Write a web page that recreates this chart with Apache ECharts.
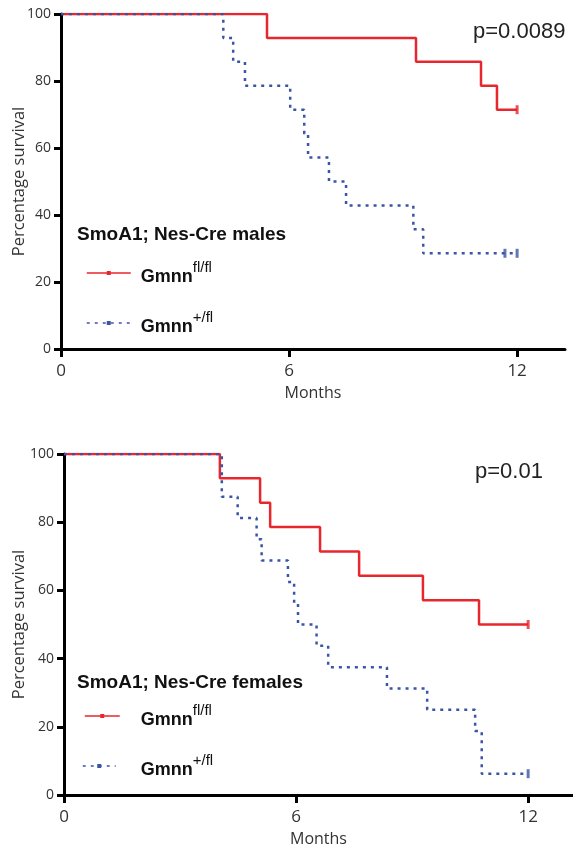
<!DOCTYPE html>
<html lang="en">
<head>
	<meta charset="UTF-8">
	<title>Survival</title>
	<script src="https://cdn.jsdelivr.net/npm/echarts@6/dist/echarts.min.js"></script>
	<style>
		body { margin: 0; background: #fff; }
	</style>
</head>
<body>
	<div id="km_charts" style="width: 573px;height:850px;"></div>

	<script type="text/javascript">
		// months, percentage survival (step points)
		var malesFlFl = [[0, 100], [5.42, 92.86], [9.34, 85.71], [11.05, 78.57], [11.47, 71.43], [12, 71.43]];
		var malesPlusFl = [[0, 100], [4.27, 92.86], [4.53, 85.71], [4.84, 78.57], [6.03, 71.43], [6.4, 64.29], [6.5, 57.14],
			[7.05, 50], [7.5, 42.86], [9.27, 35.71], [9.53, 28.57], [12, 28.57]];
		var malesCensFlFl = [[12, 71.43]];
		var malesCensPlusFl = [[11.68, 28.57], [12, 28.57]];

		var femalesFlFl = [[0, 100], [4.03, 92.86], [5.07, 85.71], [5.33, 78.57], [6.62, 71.43], [7.63, 64.29], [9.28, 57.14],
			[10.73, 50], [12, 50]];
		var femalesPlusFl = [[0, 100], [4.08, 87.5], [4.49, 81.25], [4.98, 75], [5.11, 68.75], [5.79, 62.5], [5.95, 56.25],
			[6.05, 50], [6.53, 43.75], [6.83, 37.5], [8.35, 31.25], [9.39, 25], [10.63, 18.75], [10.8, 6.25], [12, 6.25]];
		var femalesCensFlFl = [[12, 50]];
		var femalesCensPlusFl = [[12, 6.25]];

		var pValues = ['p=0.0089', 'p=0.01'];
		var groupTitles = ['SmoA1; Nes-Cre males', 'SmoA1; Nes-Cre females'];

		var RED = '#e8262d';
		var BLUE = '#3b55a5';
		var FONT = 'Open Sans';

		var km_chart = echarts.init(document.getElementById('km_charts'));

		function xAxisOf(idx, max) {
			return {
				type: 'value', gridIndex: idx, min: 0, max: max, interval: 6,
				name: 'Months', nameLocation: 'middle', nameGap: 36,
				nameTextStyle: { fontFamily: FONT, fontSize: 16, color: '#333' },
				axisLine: { lineStyle: { color: '#000', width: 3 } },
				axisTick: { length: 8, lineStyle: { color: '#000', width: 3 } },
				axisLabel: { fontFamily: FONT, fontSize: 17, color: '#333', margin: 14, showMaxLabel: false },
				splitLine: { show: false }
			};
		}
		function yAxisOf(idx, gap) {
			return {
				type: 'value', gridIndex: idx, min: 0, max: 100, interval: 20,
				name: 'Percentage survival', nameLocation: 'middle', nameGap: gap, nameRotate: 90,
				nameMoveOverlap: false,
				nameTextStyle: { fontFamily: FONT, fontSize: 16.5, color: '#333' },
				axisLine: { show: true, lineStyle: { color: '#000', width: 3 } },
				axisTick: { show: true, length: 7, lineStyle: { color: '#000', width: 3 } },
				axisLabel: { fontFamily: FONT, fontSize: 14, color: '#333', margin: 10 },
				splitLine: { show: false }
			};
		}
		function stepLine(name, idx, data, color, dashed) {
			return {
				name: name, type: 'line', step: 'end', xAxisIndex: idx, yAxisIndex: idx,
				data: data, symbol: 'rect', symbolSize: 4, showSymbol: false, silent: true,
				z: dashed ? 4 : 3,
				itemStyle: { color: color },
				lineStyle: { color: color, width: 2.5, type: dashed ? [3, 5] : 'solid' }
			};
		}
		function censor(idx, data, color) {
			return {
				type: 'scatter', xAxisIndex: idx, yAxisIndex: idx, data: data,
				symbol: 'rect', symbolSize: [3, 9], itemStyle: { color: color }, z: 5, silent: true
			};
		}
		function legendOf(name, left, top, width, textPad) {
			return {
				data: [name], left: left, top: top, itemWidth: width, itemHeight: 5,
				selectedMode: false,
				lineStyle: { width: 1.5 },
				formatter: function (n) {
					return '{g|Gmnn}{s|' + (n.indexOf('+') >= 0 ? '+/fl' : 'fl/fl') + '}';
				},
				textStyle: {
					rich: {
						g: { fontFamily: 'Liberation Sans', fontWeight: 'bold', fontSize: 18, color: '#111',
							padding: [0, 0, 0, textPad], verticalAlign: 'bottom', lineHeight: 26 },
						s: { fontFamily: 'Liberation Sans', fontSize: 15, color: '#111', verticalAlign: 'top', lineHeight: 26 }
					}
				}
			};
		}
		var titleFont = { fontFamily: 'Liberation Sans', fontSize: 22, fontWeight: 'normal', color: '#222' };
		var groupFont = { fontFamily: 'Liberation Sans', fontSize: 19, fontWeight: 'bold', color: '#111' };

		var km_option = {
			animation: false,
			title: [
				{ text: pValues[0], left: 468, top: 16, textStyle: titleFont },
				{ text: pValues[1], left: 470, top: 456, textStyle: titleFont },
				{ text: groupTitles[0], left: 72, top: 220, textStyle: groupFont },
				{ text: groupTitles[1], left: 72, top: 668, textStyle: groupFont }
			],
			legend: [
				legendOf('males fl/fl', 81, 255, 44, 5),
				legendOf('males +/fl', 81, 305, 44, 5),
				legendOf('females fl/fl', 79, 698, 35, 16),
				legendOf('females +/fl', 77, 748, 33, 20)
			],
			grid: [
				{ left: 61, top: 14, width: 504, height: 335, outerBoundsMode: 'none' },
				{ left: 64, top: 454, width: 509, height: 341, outerBoundsMode: 'none' }
			],
			xAxis: [xAxisOf(0, 13.26), xAxisOf(1, 13.16)],
			yAxis: [yAxisOf(0, 33), yAxisOf(1, 36)],
			series: [
				stepLine('males fl/fl', 0, malesFlFl, RED, false),
				stepLine('males +/fl', 0, malesPlusFl, BLUE, true),
				censor(0, malesCensFlFl, RED),
				censor(0, malesCensPlusFl, BLUE),
				stepLine('females fl/fl', 1, femalesFlFl, RED, false),
				stepLine('females +/fl', 1, femalesPlusFl, BLUE, true),
				censor(1, femalesCensFlFl, RED),
				censor(1, femalesCensPlusFl, BLUE)
			]
		};

		km_chart.setOption(km_option);
	</script>
</body>
</html>
